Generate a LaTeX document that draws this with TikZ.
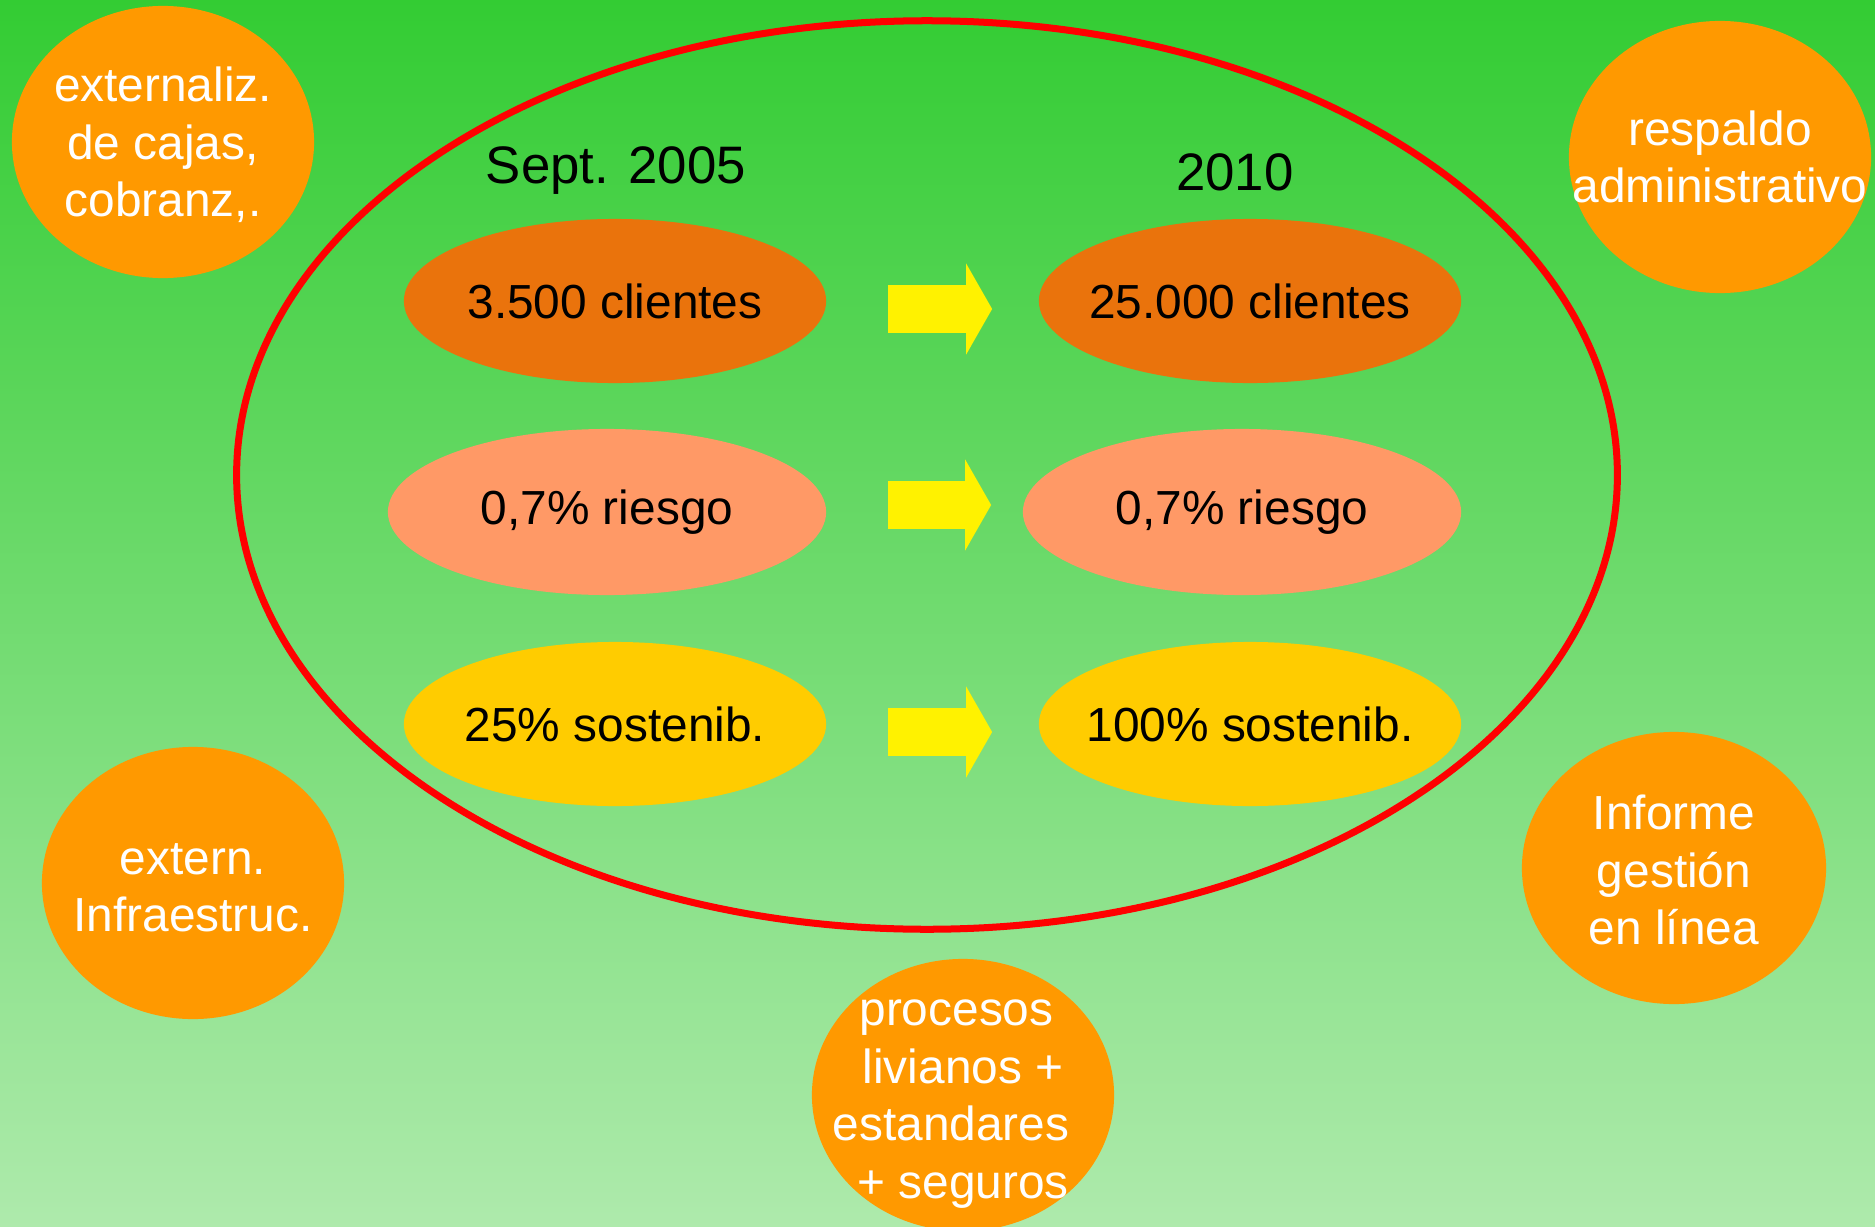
\documentclass[tikz,border=0pt]{standalone}
\usepackage{fontspec,xcolor}
\usetikzlibrary{shapes.geometric,arrows.meta}
\setmainfont{Liberation Sans}
\definecolor{bgTop}{RGB}{51,204,51}
\definecolor{bgBottom}{RGB}{174,234,172}
\definecolor{clientOrange}{RGB}{234,115,12}
\definecolor{riskSalmon}{RGB}{255,153,102}
\definecolor{sustGold}{RGB}{255,204,0}
\definecolor{outerOrange}{RGB}{255,153,0}
\newcommand{\bodyFont}{\fontsize{13.6}{16.4}\selectfont}
\newcommand{\yearFont}{\fontsize{15}{18}\selectfont}
\newcommand{\growArrow}[4]{%
    \draw[arrowBody,shorten >=#4] ([yshift=#3]#1.east) -- ([yshift=#3]#2.west);%
}

\begin{document}
\begin{tikzpicture}[x=0.01cm,y=0.01cm,
    goal/.style={ellipse,inner xsep=-1.2cm,inner ysep=-0.5cm,text=black,font=\bodyFont,
        minimum width=4.22cm,minimum height=1.64cm},
    extra/.style={ellipse,inner xsep=-1.6cm,inner ysep=-1.2cm,fill=outerOrange,text=white,
        align=center,font=\bodyFont,minimum width=3.02cm,minimum height=2.72cm},
    arrowBody/.style={draw=yellow,line width=0.47cm,shorten <=0.61cm,
        -{Triangle[width=0.9cm,length=0.26cm]}}]
\useasboundingbox (0,0) rectangle (1875,-1227);
\clip (0,0) rectangle (1875,-1227);
\shade[top color=bgTop,bottom color=bgBottom] (0,0) rectangle (1875,-1227);

\node[ellipse,draw=red,line width=0.07cm,inner sep=0pt,
    minimum width=13.8cm,minimum height=9.08cm] (frame) at (927,-475) {};

\node[font=\yearFont] (year05) at (616,-171) {Sept. 2005};
\node[font=\yearFont] (year10) at (1235,-172) {2010};

\node[goal,fill=clientOrange] (cli05) at (615,-301) {3.500 clientes};
\node[goal,fill=clientOrange] (cli10) at (1250,-301) {25.000 clientes};
\node[goal,fill=riskSalmon,minimum width=4.38cm,minimum height=1.66cm] (risk05) at (607,-512) {0,7\% riesgo};
\node[goal,fill=riskSalmon,minimum width=4.38cm,minimum height=1.66cm] (risk10) at (1242,-512) {0,7\% riesgo};
\node[goal,fill=sustGold] (sust05) at (615,-724) {25\% sostenib.};
\node[goal,fill=sustGold] (sust10) at (1250,-724) {100\% sostenib.};

\growArrow{cli05}{cli10}{-0.08cm}{0.46cm}
\growArrow{risk05}{risk10}{0.07cm}{0.31cm}
\growArrow{sust05}{sust10}{-0.08cm}{0.46cm}

\node[extra] (cajas) at (163,-142) {\rule{0pt}{11.5pt}externaliz.\\de cajas,\\cobranz,.};
\node[extra] (respaldo) at (1720,-157) {respaldo\\administrativo};
\node[extra] (infra) at (193,-883) {\rule{0pt}{11.5pt}extern.\\Infraestruc.};
\node[extra,minimum width=3.04cm] (informe) at (1674,-868) {\rule{0pt}{11pt}Informe\\gestión\\en línea};
\node[extra] (procesos) at (963,-1095) {\rule{0pt}{12.5pt}procesos\kern0.13cm\\livianos +\\estandares\kern0.24cm\\+ seguros};
\end{tikzpicture}
\end{document}
